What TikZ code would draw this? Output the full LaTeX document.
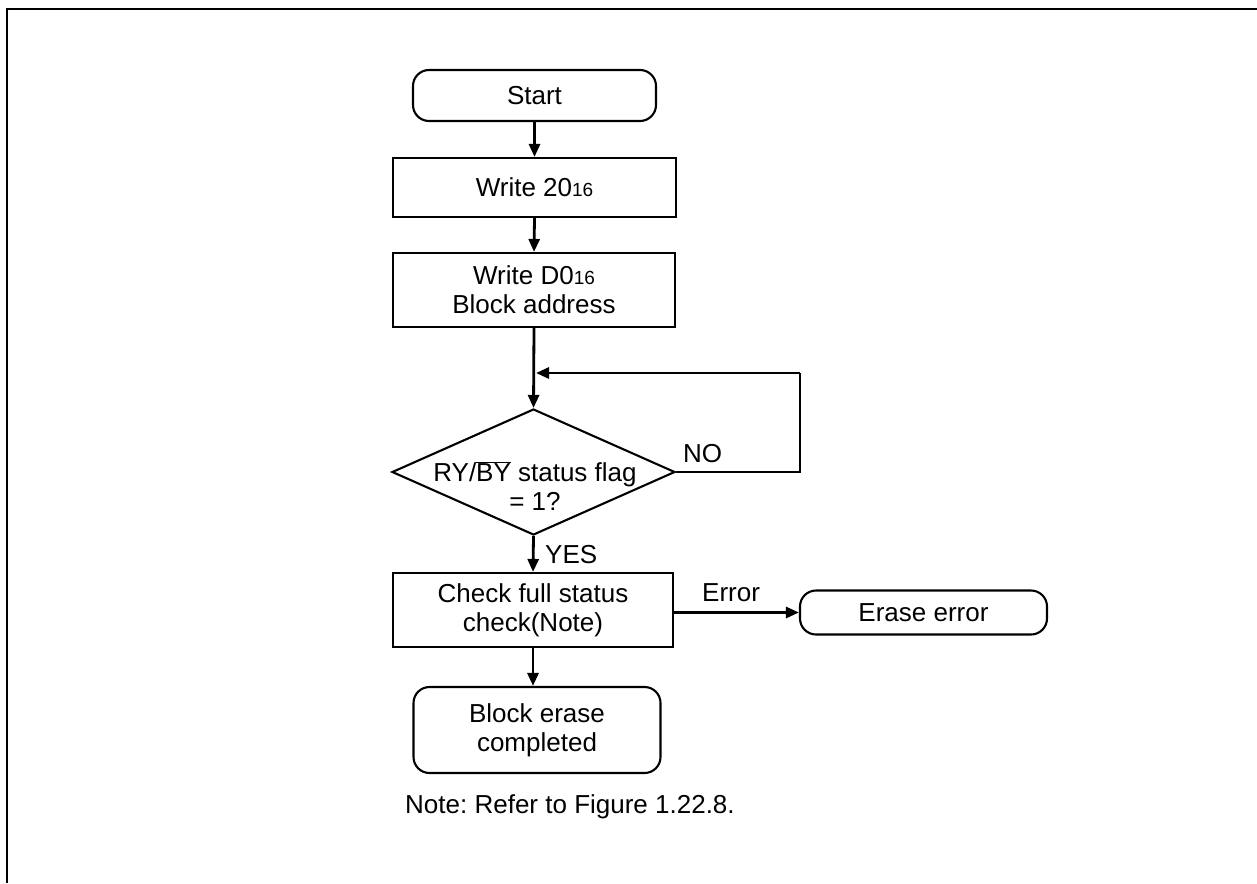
\documentclass[tikz,border=0pt]{standalone}
\usepackage{fontspec}
\setmainfont{Liberation Sans}
\usetikzlibrary{arrows.meta,shapes.geometric,calc}
\newcommand{\hexsub}[1]{{\fontsize{19}{20}\selectfont #1}}
\frenchspacing
\begin{document}
\begin{tikzpicture}[x=1pt,y=-1pt,
  font=\fontsize{26}{29}\selectfont,
  box/.style={draw, line width=2.1pt, inner sep=0pt, align=center},
  rbox/.style={box, rounded corners=16pt},
  flow/.style={line width=2.8pt, -{Triangle[length=13pt,width=11pt]}},
  plain/.style={line width=2.8pt},
  lbl/.style={inner sep=0pt, anchor=base west}]
\useasboundingbox (0,0) rectangle (1257,883);
\fill[white] (0,0) rectangle (1257,883);
% frame
\draw[line width=2.8pt] (7,883) -- (7,9) -- (1257,9);
% nodes
\node[rbox, minimum width=243pt, minimum height=51pt] (start) at (534.5,95.5) {Start};
\node[box, minimum width=283pt, minimum height=59pt] (w20) at (534.5,187.5) {Write 20\hexsub{16}};
\node[box, minimum width=282pt, minimum height=74pt] (wd0) at (534,290) {Write D0\hexsub{16}\\Block address};
\node[draw, diamond, line width=2.1pt, inner sep=0pt, minimum width=283pt, minimum height=126pt] (dec) at (533.5,472) {};
\node[inner sep=0pt, align=center] (dectext) at (535,486) {RY/$\overline{\mbox{BY}}$ status flag\\= 1?};
\node[box, minimum width=280pt, minimum height=74pt] (chk) at (533,610) {Check full status\\check(Note)};
\node[rbox, minimum width=247pt, minimum height=44pt] (err) at (923.5,612.5) {Erase error};
\node[rbox, minimum width=247pt, minimum height=86pt] (done) at (537,730) {Block erase\\completed};
% labels
\node[lbl] (nol) at (683,462) {NO};
\node[lbl] (yesl) at (545,563) {YES};
\node[lbl] (errl) at (702,601) {Error};
\node[lbl] (note) at (405,813) {Note: Refer to Figure 1.22.8.};
% coordinates
\coordinate (loopa) at (800,472);
\coordinate (loopb) at (800,373);
\coordinate (loopc) at (536,373);
% connectors
\draw[flow] (start.south) -- (w20.north);
\draw[flow] (w20.south) -- (wd0.north);
\draw[flow] (wd0.south) -- (dec.north);
\draw[plain] (dec.east) -- (loopa) -- (loopb);
\draw[flow] (loopb) -- (loopc);
\draw[flow] (dec.south) -- (chk.north);
\draw[flow] (chk.east |- err.west) -- (err.west);
\draw[flow] (chk.south) -- (chk.south |- done.north);
\end{tikzpicture}
\end{document}
